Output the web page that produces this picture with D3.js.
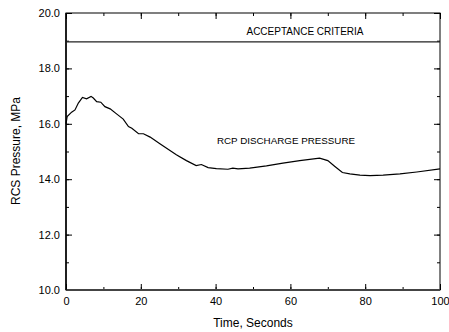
<!DOCTYPE html>
<html><head><meta charset="utf-8">
<script src="https://cdn.jsdelivr.net/npm/d3@7"></script>
<style>body{margin:0;background:#fff}svg{display:block}text{font-family:"Liberation Sans",Arial,sans-serif}</style>
</head><body><svg id="c" width="449" height="332"></svg>
<script>
const timeS = [0,0.3,1.5,2.4,3.3,4.4,5.5,6.7,7.3,8.2,9.3,10.4,11.8,13.6,15.3,16.7,17.6,19.4,20.7,22.5,25.1,29.5,32.2,34.8,36.2,38,40.2,43.3,44.6,46,49.1,53.6,58,62.5,67.8,70,71.9,73.9,75.9,78.6,81.3,84.8,89.3,93.8,100];
const pressure = [16.0,16.26,16.42,16.5,16.75,16.95,16.9,16.99,16.93,16.8,16.78,16.62,16.54,16.35,16.17,15.9,15.84,15.64,15.64,15.52,15.28,14.88,14.67,14.49,14.53,14.42,14.38,14.36,14.4,14.37,14.4,14.48,14.58,14.67,14.76,14.67,14.46,14.24,14.19,14.15,14.13,14.15,14.19,14.26,14.37];
const acceptance = 18.96;
const xTicks = [0,20,40,60,80,100];
const yTicks = [10,12,14,16,18,20];

const svg = d3.select("#c");
const L=66,R=440,T=13,B=290;
const x = d3.scaleLinear().domain([0,100]).range([L,R]);
const y = d3.scaleLinear().domain([10,20]).range([B,T]);
const minorX = d3.range(0,101,10), minorY = d3.range(10,20.01,1);

svg.append("rect").attr("x",L).attr("y",T).attr("width",R-L).attr("height",B-T).attr("fill","none").attr("stroke","#000").attr("stroke-width",1);

function axis(gen, tr, vals, size, labels){
  const g = svg.append("g").attr("transform",tr).call(gen.tickValues(vals).tickSize(size).tickFormat(labels?null:""));
  g.select(".domain").remove();
  g.selectAll("line").attr("stroke","#000");
  g.selectAll("text").attr("font-size",11).attr("fill","#000");
  return g;
}
axis(d3.axisBottom(x), `translate(0,${B})`, minorX, -3, false);
axis(d3.axisBottom(x), `translate(0,${B})`, xTicks, -6, true).selectAll("text").attr("y",7).attr("dy","0.71em").text(d=>d);
axis(d3.axisTop(x), `translate(0,${T})`, minorX, -3, false);
axis(d3.axisTop(x), `translate(0,${T})`, xTicks, -6, false);
axis(d3.axisLeft(y), `translate(${L},0)`, minorY, -3, false);
axis(d3.axisLeft(y), `translate(${L},0)`, yTicks, -6, true).selectAll("text").attr("x",-6).text(d=>d.toFixed(1));
axis(d3.axisRight(y), `translate(${R},0)`, minorY, -3, false);
axis(d3.axisRight(y), `translate(${R},0)`, yTicks, -6, false);

svg.append("line").attr("x1",L).attr("x2",R).attr("y1",B).attr("y2",B).attr("stroke","#444").attr("stroke-width",2);
svg.append("line").attr("x1",L).attr("x2",L).attr("y1",T).attr("y2",B).attr("stroke","#000").attr("stroke-width",1.5);

svg.append("line").attr("x1",x(0)).attr("x2",x(100)).attr("y1",y(acceptance)).attr("y2",y(acceptance)).attr("stroke","#222").attr("stroke-width",1.3);

const line = d3.line().x((d,i)=>x(timeS[i])).y(d=>y(d));
svg.append("path").datum(pressure).attr("d",line).attr("fill","none").attr("stroke","#000").attr("stroke-width",1.2);

svg.append("text").attr("x",305).attr("y",35).attr("text-anchor","middle").attr("font-size",10).text("ACCEPTANCE CRITERIA");
svg.append("text").attr("x",286).attr("y",144).attr("text-anchor","middle").attr("font-size",9.8).text("RCP DISCHARGE PRESSURE");

svg.append("text").attr("x",253).attr("y",327).attr("text-anchor","middle").attr("font-size",12).text("Time, Seconds");
svg.append("text").attr("transform","translate(20,151) rotate(-90)").attr("text-anchor","middle").attr("font-size",12).text("RCS Pressure, MPa");
</script></body></html>
